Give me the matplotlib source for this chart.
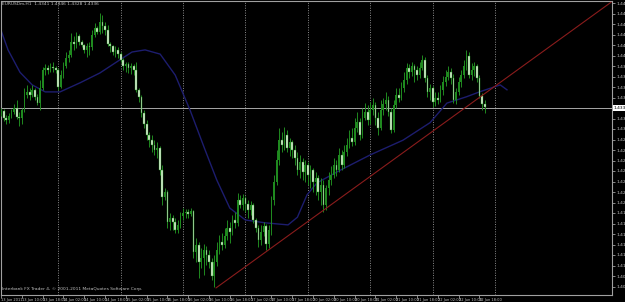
import numpy as np
import matplotlib
matplotlib.use("Agg")
import matplotlib.pyplot as plt
import matplotlib.transforms as mtransforms

# EURUSD H1, 13 Jun 2011 02:00 .. 22 Jun 2011 20:00 (bars)
first_open = 1.4328
closes = [
    1.4331, 1.4321, 1.4318, 1.4324, 1.4329, 1.4335, 1.4322, 1.4321, 1.4332, 1.4354,
    1.4358, 1.4354, 1.4361, 1.4351, 1.4342, 1.4364, 1.4389, 1.4392, 1.4389, 1.4394,
    1.4392, 1.4389, 1.4365, 1.4382, 1.4395, 1.4406, 1.4411, 1.4429, 1.4426, 1.4438,
    1.4429, 1.4425, 1.4418, 1.4424, 1.4422, 1.4439, 1.4449, 1.4444, 1.4458, 1.4452,
    1.4446, 1.4426, 1.4424, 1.4415, 1.4418, 1.4412, 1.4404, 1.4395, 1.4398, 1.4392,
    1.4395, 1.4389, 1.4361, 1.4351, 1.4328, 1.4312, 1.4296, 1.4289, 1.4282, 1.4275,
    1.4278, 1.4246, 1.4208, 1.4215, 1.4172, 1.4178, 1.4172, 1.4161, 1.4168, 1.4181,
    1.4185, 1.4186, 1.4184, 1.4188, 1.4129, 1.4139, 1.4115, 1.4121, 1.4132, 1.4125,
    1.4115, 1.4095, 1.4115, 1.4132, 1.4144, 1.4139, 1.4152, 1.4164, 1.4158, 1.4175,
    1.4171, 1.4204, 1.4196, 1.4206, 1.4198, 1.4189, 1.4196, 1.4175, 1.4164, 1.4146,
    1.4158, 1.4166, 1.4141, 1.4161, 1.4204, 1.4229, 1.4261, 1.4289, 1.4282, 1.4296,
    1.4278, 1.4286, 1.4275, 1.4264, 1.4246, 1.4258, 1.4244, 1.4254, 1.4239, 1.4246,
    1.4229, 1.4235, 1.4215, 1.4225, 1.4196, 1.4221, 1.4232, 1.4239, 1.4254, 1.4246,
    1.4268, 1.4254, 1.4272, 1.4282, 1.4292, 1.4286, 1.4306, 1.4315, 1.4296, 1.4321,
    1.4329, 1.4318, 1.4332, 1.4339, 1.4321, 1.4306, 1.4332, 1.4341, 1.4346, 1.4329,
    1.4304, 1.4339, 1.4354, 1.4349, 1.4364, 1.4375, 1.4392, 1.4386, 1.4395, 1.4389,
    1.4382, 1.4392, 1.4404, 1.4378, 1.4358, 1.4364, 1.4344, 1.4349, 1.4346, 1.4361,
    1.4372, 1.4379, 1.4386, 1.4378, 1.4346, 1.4358, 1.4372, 1.4382, 1.4395, 1.4409,
    1.4382, 1.4389, 1.4395, 1.4378, 1.4352, 1.4341, 1.4336,
]
highs = [
    1.4335, 1.4334, 1.4325, 1.4328, 1.4334, 1.4341, 1.4346, 1.4329, 1.4335, 1.4364,
    1.4368, 1.4364, 1.4368, 1.4364, 1.4355, 1.4375, 1.4394, 1.4398, 1.4396, 1.4399,
    1.4401, 1.4395, 1.4392, 1.4389, 1.4401, 1.4415, 1.4418, 1.4442, 1.4438, 1.4444,
    1.4441, 1.4432, 1.4426, 1.4428, 1.4429, 1.4446, 1.4456, 1.4452, 1.4471, 1.4468,
    1.4458, 1.4454, 1.4429, 1.4425, 1.4424, 1.4422, 1.4415, 1.4406, 1.4401, 1.4401,
    1.4399, 1.4398, 1.4401, 1.4364, 1.4354, 1.4332, 1.4318, 1.4301, 1.4296, 1.4289,
    1.4286, 1.4281, 1.4254, 1.4221, 1.4218, 1.4185, 1.4182, 1.4178, 1.4175, 1.4186,
    1.4192, 1.4191, 1.4191, 1.4192, 1.4189, 1.4149, 1.4144, 1.4135, 1.4141, 1.4138,
    1.4132, 1.4121, 1.4125, 1.4144, 1.4154, 1.4156, 1.4164, 1.4175, 1.4172, 1.4182,
    1.4186, 1.4214, 1.4211, 1.4212, 1.4209, 1.4204, 1.4202, 1.4199, 1.4178, 1.4168,
    1.4168, 1.4172, 1.4169, 1.4168, 1.4209, 1.4239, 1.4275, 1.4306, 1.4301, 1.4308,
    1.4304, 1.4292, 1.4289, 1.4282, 1.4272, 1.4268, 1.4264, 1.4261, 1.4258, 1.4254,
    1.4249, 1.4244, 1.4239, 1.4235, 1.4232, 1.4225, 1.4244, 1.4252, 1.4264, 1.4261,
    1.4278, 1.4275, 1.4282, 1.4292, 1.4304, 1.4306, 1.4321, 1.4329, 1.4321, 1.4335,
    1.4342, 1.4339, 1.4344, 1.4349, 1.4344, 1.4329, 1.4346, 1.4349, 1.4358, 1.4352,
    1.4335, 1.4346, 1.4364, 1.4364, 1.4372, 1.4386, 1.4399, 1.4398, 1.4401, 1.4398,
    1.4395, 1.4401, 1.4411, 1.4408, 1.4382, 1.4369, 1.4366, 1.4358, 1.4358, 1.4368,
    1.4381, 1.4389, 1.4395, 1.4392, 1.4384, 1.4364, 1.4379, 1.4389, 1.4404, 1.4418,
    1.4415, 1.4399, 1.4401, 1.4398, 1.4382, 1.4356, 1.4346,
]
lows = [
    1.4324, 1.4316, 1.4312, 1.4314, 1.4321, 1.4326, 1.4319, 1.4309, 1.4312, 1.4329,
    1.4349, 1.4346, 1.4351, 1.4346, 1.4339, 1.4332, 1.4361, 1.4382, 1.4384, 1.4386,
    1.4386, 1.4385, 1.4361, 1.4364, 1.4378, 1.4392, 1.4401, 1.4408, 1.4418, 1.4421,
    1.4425, 1.4422, 1.4414, 1.4408, 1.4411, 1.4418, 1.4436, 1.4441, 1.4441, 1.4442,
    1.4439, 1.4424, 1.4415, 1.4411, 1.4408, 1.4406, 1.4401, 1.4389, 1.4386, 1.4385,
    1.4384, 1.4382, 1.4358, 1.4344, 1.4322, 1.4306, 1.4289, 1.4279, 1.4272, 1.4268,
    1.4264, 1.4239, 1.4196, 1.4204, 1.4164, 1.4161, 1.4161, 1.4156, 1.4156, 1.4164,
    1.4175, 1.4178, 1.4178, 1.4181, 1.4121, 1.4115, 1.4092, 1.4106, 1.4096, 1.4111,
    1.4106, 1.4089, 1.4079, 1.4109, 1.4126, 1.4132, 1.4135, 1.4146, 1.4142, 1.4154,
    1.4164, 1.4166, 1.4192, 1.4189, 1.4186, 1.4178, 1.4182, 1.4171, 1.4158, 1.4136,
    1.4139, 1.4152, 1.4132, 1.4135, 1.4154, 1.4196, 1.4225, 1.4254, 1.4272, 1.4275,
    1.4272, 1.4266, 1.4264, 1.4254, 1.4239, 1.4235, 1.4232, 1.4229, 1.4225, 1.4221,
    1.4215, 1.4211, 1.4204, 1.4196, 1.4186, 1.4189, 1.4211, 1.4225, 1.4235, 1.4238,
    1.4244, 1.4246, 1.4249, 1.4266, 1.4278, 1.4281, 1.4282, 1.4301, 1.4289, 1.4292,
    1.4318, 1.4311, 1.4312, 1.4325, 1.4311, 1.4296, 1.4304, 1.4325, 1.4332, 1.4324,
    1.4299, 1.4301, 1.4335, 1.4344, 1.4346, 1.4358, 1.4369, 1.4378, 1.4381, 1.4372,
    1.4375, 1.4378, 1.4389, 1.4372, 1.4351, 1.4346, 1.4336, 1.4338, 1.4341, 1.4344,
    1.4354, 1.4366, 1.4375, 1.4369, 1.4342, 1.4341, 1.4354, 1.4365, 1.4378, 1.4389,
    1.4378, 1.4375, 1.4381, 1.4372, 1.4349, 1.4332, 1.4328,
]

# moving average (shifted), read at a few bars
ma_bars = [0, 2.7, 7.3, 12, 17, 22.7, 30.4, 38, 45.8, 50.4, 55.4, 61.2, 67, 72.7,
           78.5, 83, 88, 94, 101.5, 110.4, 114, 117.7, 121.5, 130.4, 142, 154.6,
           165, 171.5, 179, 184, 192, 194.6]
ma_prices = [1.4446, 1.4418, 1.4386, 1.4368, 1.4358, 1.4358, 1.4371, 1.4385, 1.4404,
             1.4415, 1.4418, 1.4412, 1.4382, 1.4332, 1.4275, 1.4232, 1.4192, 1.4175,
             1.4171, 1.4168, 1.4179, 1.4211, 1.4228, 1.4246, 1.4268, 1.4289, 1.4314,
             1.4342, 1.4351, 1.4358, 1.4368, 1.4361]

# trend line anchors
trend_bars = [82.7, 234.6]
trend_prices = [1.4078, 1.4486]

# day separators (bar index of 00:00)
day_starts = [22, 46, 70, 94, 118, 142, 166, 190]

bid = 1.4335
price_ticks = [1.4485 - 0.0015 * k for k in range(28)]
time_tick_bars = list(range(0, 188, 8))
time_tick_labels = [
    "13 Jun 2011", "13 Jun 10:00", "13 Jun 18:00", "14 Jun 02:00", "14 Jun 10:00",
    "14 Jun 18:00", "15 Jun 02:00", "15 Jun 10:00", "15 Jun 18:00", "16 Jun 02:00",
    "16 Jun 10:00", "16 Jun 18:00", "17 Jun 02:00", "17 Jun 10:00", "17 Jun 18:00",
    "20 Jun 02:00", "20 Jun 10:00", "20 Jun 18:00", "21 Jun 02:00", "21 Jun 10:00",
    "21 Jun 18:00", "22 Jun 02:00", "22 Jun 10:00", "22 Jun 18:00",
]

opens = [first_open] + closes[:-1]
idx = np.arange(len(closes))
o = np.array(opens)
c = np.array(closes)
h = np.maximum(np.array(highs), np.maximum(o, c))
l = np.minimum(np.array(lows), np.minimum(o, c))

fig = plt.figure(figsize=(6.25, 3.02), dpi=100, facecolor="black")
ax = fig.add_axes([0.5 / 625, 7 / 302, 611.5 / 625, 294.5 / 302], facecolor="black")

fg = "#c0c0c0"
wick_col = "#1f8a1f"
bull_col = "#1f8a1f"
bear_col = "#e0f4d8"

# period separators
for d in day_starts:
    ax.axvline(d, color="#8c8c8c", linestyle=(0, (1, 1.5)), linewidth=0.7, zorder=1)

# bid line
ax.axhline(bid, color="#a8a8a8", linewidth=0.7, zorder=1)

# moving average
ax.plot(ma_bars, ma_prices, color="#1d1d6e", linewidth=1.0, zorder=2)

# candles
ax.vlines(idx, l, h, color=wick_col, linewidth=0.7, zorder=3)
up = c >= o
body_lo = np.minimum(o, c)
body_h = np.maximum(np.abs(c - o), 0.00003)
ax.bar(idx[up], body_h[up], bottom=body_lo[up], width=0.7, color=bull_col,
       linewidth=0, zorder=4)
ax.bar(idx[~up], body_h[~up], bottom=body_lo[~up], width=0.7, color=bear_col,
       edgecolor=wick_col, linewidth=0.3, zorder=4)

# trend line
ax.plot(trend_bars, trend_prices, color="#8a1c1c", linewidth=0.8, zorder=5)

ax.set_xlim(-0.2, -0.2 + 611.5 / 2.6)
ax.set_ylim(1.4485 - 292 / 7000, 1.4485 + 2.5 / 7000)

for s in ax.spines.values():
    s.set_color("#a0a0a0")
    s.set_linewidth(0.8)

# the price scale: the label under the bid marker is replaced by the marker itself
ax.yaxis.tick_right()
ax.set_yticks(price_ticks)
ax.set_yticklabels(["" if abs(p - bid) < 1e-6 else f"{p:.4f}" for p in price_ticks])
ax.tick_params(axis="y", colors=fg, labelsize=3.2, length=2, width=0.5, pad=1)
ax.set_xticks(time_tick_bars)
ax.set_xticklabels(time_tick_labels, ha="left")
ax.tick_params(axis="x", colors=fg, labelsize=2.6, length=2, width=0.5, pad=0.5)

# bid price label on the scale
tr = mtransforms.blended_transform_factory(ax.transAxes, ax.transData)
ax.text(1.003, bid, "1.4336", transform=tr, fontsize=3.2, color="black", va="center",
        ha="left", bbox=dict(boxstyle="square,pad=0.15", facecolor="white",
                             edgecolor="none"), clip_on=False, zorder=10)

ax.text(0.003, 0.995, "EURUSDm,H1  1.4341 1.4346 1.4328 1.4336", transform=ax.transAxes,
        fontsize=3.2, color=fg, va="top", ha="left")
ax.text(0.003, 0.012, "Interbank FX Trader 4, \u00a9 2001-2011 MetaQuotes Software Corp.",
        transform=ax.transAxes, fontsize=3.2, color=fg, va="bottom", ha="left")

fig.savefig("out.png", dpi=100, facecolor="black")
